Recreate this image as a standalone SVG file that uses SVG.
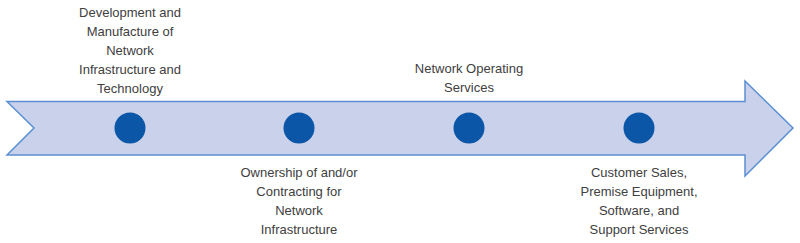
<svg xmlns="http://www.w3.org/2000/svg" width="800" height="243" viewBox="0 0 800 243">
<style>
.t{font-family:"Liberation Sans",Arial,sans-serif;font-size:13px;fill:#404040;text-anchor:middle}
.dot{fill:#0b56a6}
</style>
<rect width="800" height="243" fill="#ffffff"/>
<g id="arrow">
<path d="M7,101.5 L745,101.5 L745,81 L793,128 L745,176 L745,155 L7,155 L34,128 Z" fill="#cad2eb" stroke="#5b8fd2" stroke-width="1.5" stroke-linejoin="miter"/>
</g>
<g id="connectors"></g>
<g id="node1">
<circle class="dot" cx="130" cy="128" r="15.5"/>
<text class="t" x="130" y="17">Development and</text>
<text class="t" x="130" y="36">Manufacture of</text>
<text class="t" x="130" y="55">Network</text>
<text class="t" x="130" y="74">Infrastructure and</text>
<text class="t" x="130" y="93">Technology</text>
</g>
<g id="node2">
<circle class="dot" cx="299" cy="128" r="15.5"/>
<text class="t" x="299" y="177">Ownership of and/or</text>
<text class="t" x="299" y="196">Contracting for</text>
<text class="t" x="299" y="215">Network</text>
<text class="t" x="299" y="234">Infrastructure</text>
</g>
<g id="node3">
<circle class="dot" cx="469" cy="128" r="15.5"/>
<text class="t" x="469" y="73">Network Operating</text>
<text class="t" x="469" y="92">Services</text>
</g>
<g id="node4">
<circle class="dot" cx="639" cy="128" r="15.5"/>
<text class="t" x="639" y="177">Customer Sales,</text>
<text class="t" x="639" y="196">Premise Equipment,</text>
<text class="t" x="639" y="215">Software, and</text>
<text class="t" x="639" y="234">Support Services</text>
</g>
</svg>
